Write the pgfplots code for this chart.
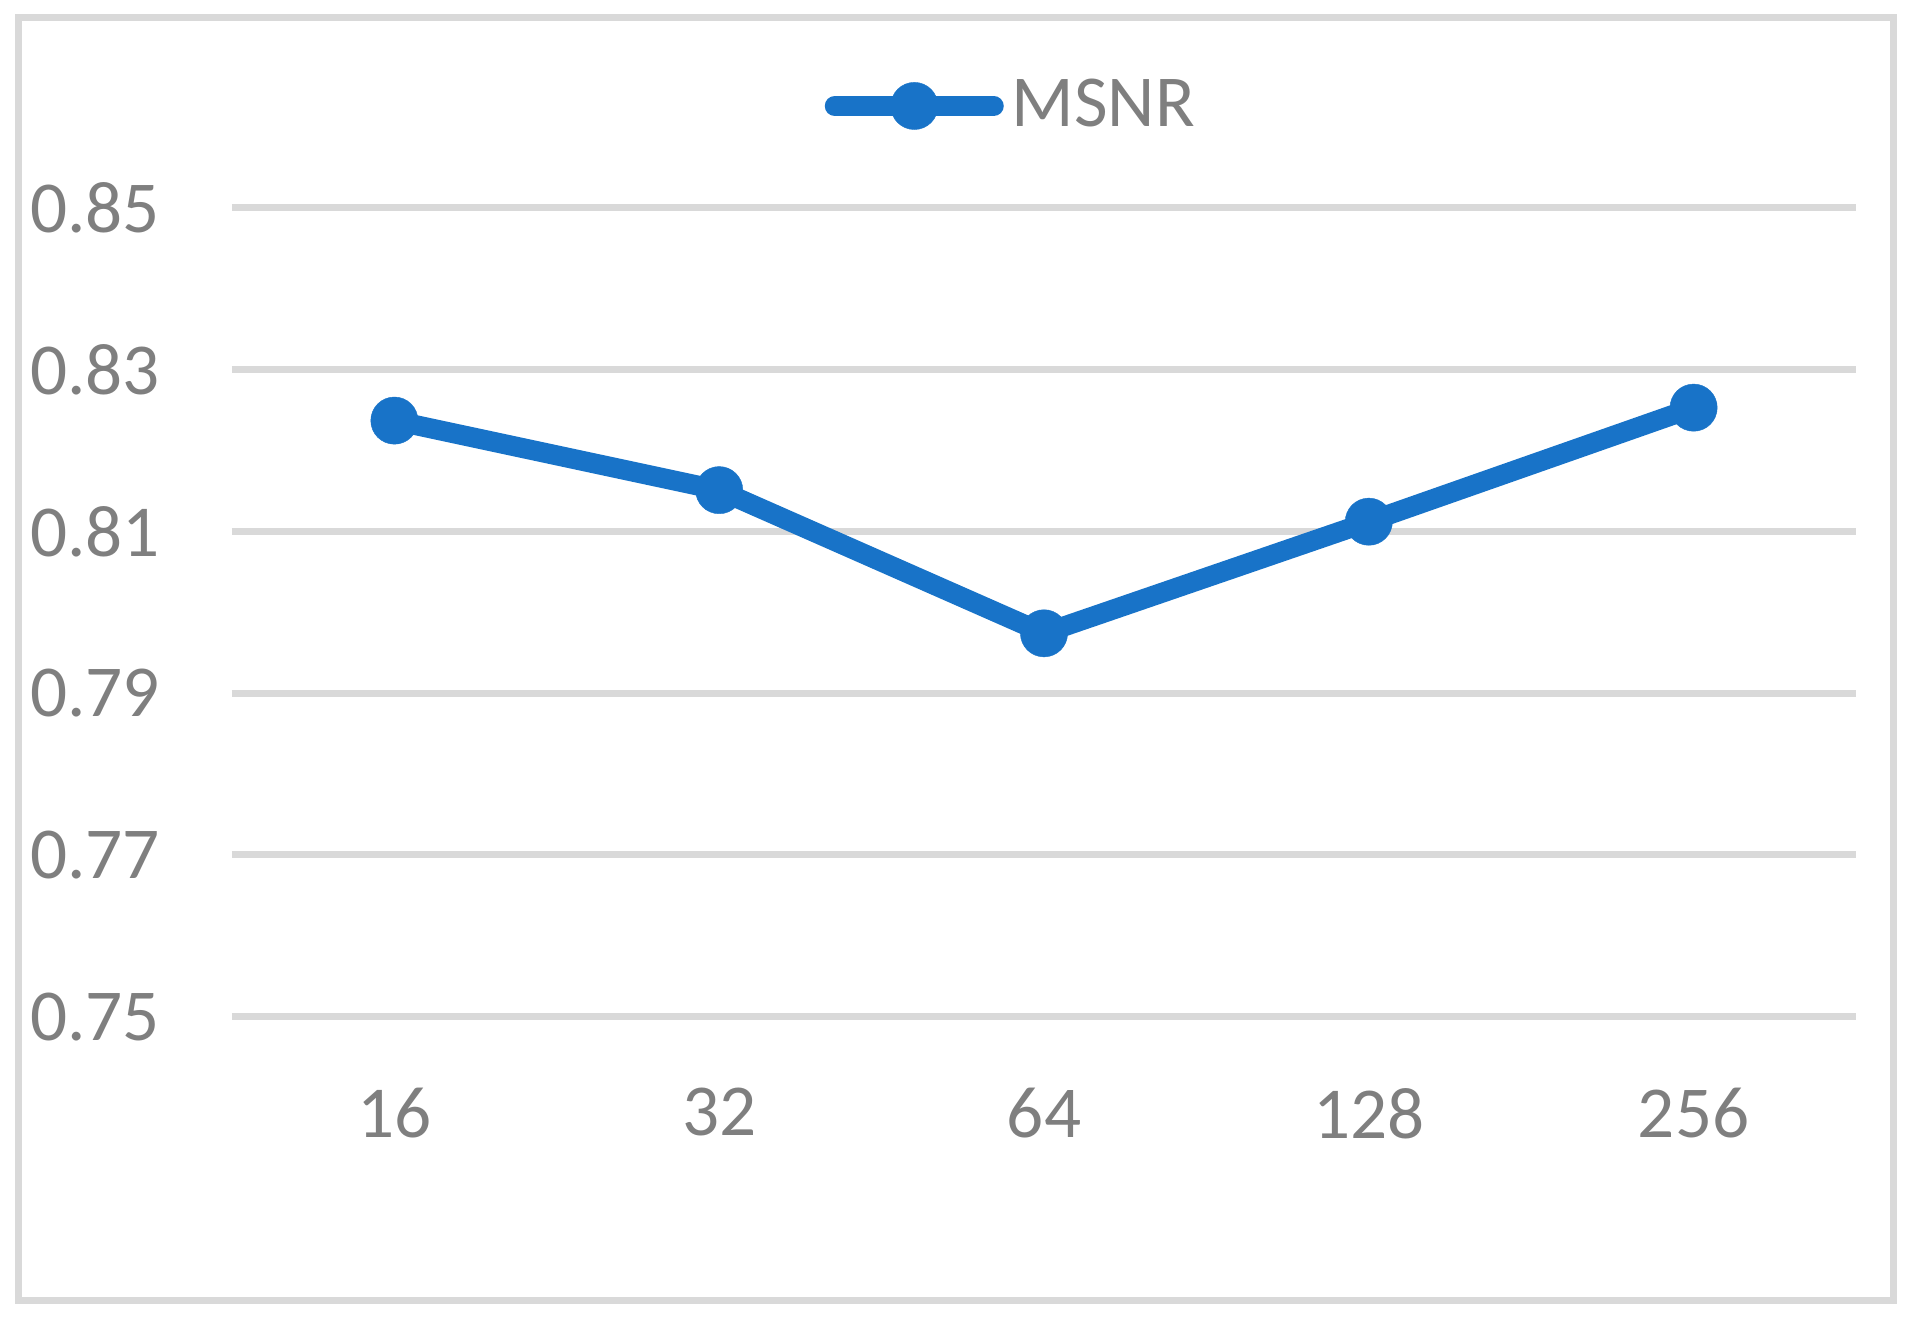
\documentclass[border=0pt]{standalone}
\usepackage{fontspec}
\setmainfont{Carlito}
\usepackage{pgfplots}
\pgfplotsset{compat=1.18}

\definecolor{msnrblue}{HTML}{1873C8}
\definecolor{gridgray}{HTML}{D9D9D9}
\definecolor{textgray}{HTML}{7F7F7F}

\begin{document}
\begin{tikzpicture}
	% page and chart frame (1 px = 0.25pt)
	\path[use as bounding box] (0pt,0pt) rectangle (478.5pt,329.5pt);
	\draw[gridgray, line width=1.75pt] (4.5pt,4.5pt) rectangle (473.25pt,325pt);
	\begin{axis}
		[
		at={(58pt,75.33pt)}, anchor=south west,
		scale only axis,
		width=406pt, height=202.2pt,
		xmin=-0.5, xmax=4.5,
		ymin=0.75, ymax=0.85,
		xtick={0,1,2,3,4},
		xticklabels={16,32,64,128,256},
		ytick={0.75,0.77,0.79,0.81,0.83,0.85},
		yticklabel style={/pgf/number format/fixed, /pgf/number format/fixed zerofill, /pgf/number format/precision=2},
		/pgf/number format/assume math mode=true,
		ymajorgrids,
		major grid style={gridgray, line width=1.75pt},
		axis line style={draw=none},
		tick style={draw=none},
		tick label style={font=\fontsize{18.3pt}{20pt}\selectfont, text=textgray},
		y tick label style={xshift=-14.5pt},
		x tick label style={yshift=-14.3pt},
		clip=false,
		legend style={at={(axis description cs:0.3645,1.126)}, anchor=west, draw=none, fill=none,
			font=\fontsize{18.3pt}{20pt}\selectfont, text=textgray, inner sep=0pt},
		legend image code/.code={
			\draw[#1, line cap=round, mark=none] (0pt,0pt) -- (39.75pt,0pt);
			\draw[#1] plot[mark repeat=2] coordinates {(19.9pt,0pt)};
		},
		]
		
		\addplot [msnrblue, line width=5pt, mark=*, mark size=5.9pt, mark options={line width=0.1pt, fill=msnrblue}]
			coordinates {(0,0.8237) (1,0.8151) (2,0.7974) (3,0.8112) (4,0.8253)};
		\addlegendentry{MSNR}
		
	\end{axis}
\end{tikzpicture}
\end{document}
